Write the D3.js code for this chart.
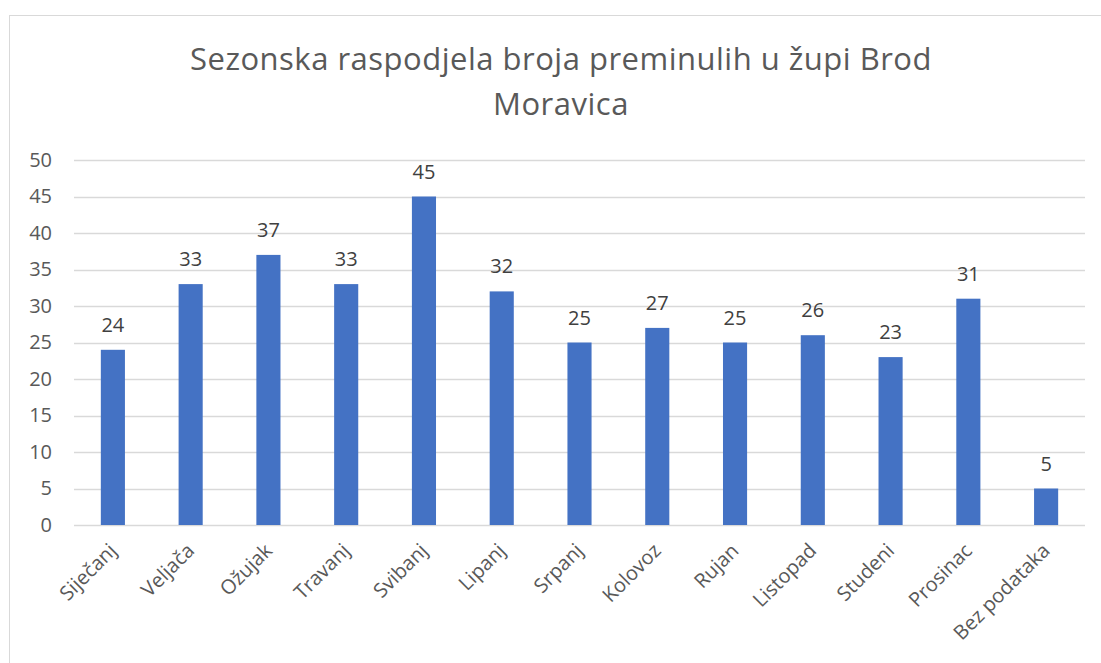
<!DOCTYPE html>
<html>
<head>
<meta charset="utf-8">
<script src="https://cdn.jsdelivr.net/npm/d3@7"></script>
<style>
  body { margin: 0; background: #fff; }
  svg { display: block; font-family: "Open Sans", sans-serif; }
</style>
</head>
<body>
<svg id="chart"></svg>
<script>
var months = ["Siječanj", "Veljača", "Ožujak", "Travanj", "Svibanj", "Lipanj", "Srpanj",
              "Kolovoz", "Rujan", "Listopad", "Studeni", "Prosinac", "Bez podataka"];
var deaths = [24, 33, 37, 33, 45, 32, 25, 27, 25, 26, 23, 31, 5];
var yTicks = [0, 5, 10, 15, 20, 25, 30, 35, 40, 45, 50];
var titleLines = ["Sezonska raspodjela broja preminulih u župi Brod", "Moravica"];

var w = 1101, h = 663;
// plot area (don't call these top/left: window.top is read only)
var plotLeft = 74, plotRight = 1085, plotTop = 160, plotBottom = 525;
var textColor = "#595959";

var svg = d3.select("#chart").attr("width", w).attr("height", h);

// outer chart frame
svg.append("rect")
    .attr("x", 9.5).attr("y", 15.5)
    .attr("width", 1120).attr("height", 700)
    .attr("fill", "none")
    .attr("stroke", "#d9d9d9");

var x = d3.scaleBand()
    .domain(months)
    .range([plotLeft, plotRight])
    .paddingInner(0.69)
    .paddingOuter(0.345);

var y = d3.scaleLinear()
    .domain([0, 50])
    .range([plotBottom, plotTop]);

// gridlines
svg.append("g")
    .selectAll("line")
    .data(yTicks)
    .enter()
    .append("line")
    .attr("x1", plotLeft).attr("x2", plotRight)
    .attr("y1", function (d) { return Math.round(y(d)) + 0.5; })
    .attr("y2", function (d) { return Math.round(y(d)) + 0.5; })
    .style("stroke", "#d9d9d9")
    .style("stroke-width", 1.3);

// y axis labels
var yAxis = d3.axisLeft(y).tickValues(yTicks).tickSize(0).tickPadding(0);
var gy = svg.append("g")
    .attr("transform", "translate(52,0)")
    .call(yAxis);
gy.select(".domain").remove();
gy.selectAll("text")
    .style("font-size", "20px")
    .style("font-family", "'Open Sans', sans-serif")
    .attr("fill", textColor);

// bars
svg.append("g")
    .selectAll("rect")
    .data(deaths)
    .enter()
    .append("rect")
    .attr("x", function (d, i) { return x(months[i]); })
    .attr("width", x.bandwidth())
    .attr("y", function (d) { return y(d); })
    .attr("height", function (d) { return y(0) - y(d); })
    .style("fill", "#4472C4");

// value labels
svg.append("g")
    .selectAll("text")
    .data(deaths)
    .enter()
    .append("text")
    .attr("x", function (d, i) { return x(months[i]) + x.bandwidth() / 2; })
    .attr("y", function (d) { return y(d) - 18; })
    .attr("text-anchor", "middle")
    .style("font-size", "20px")
    .attr("fill", "#404040")
    .text(function (d) { return d; });

// category labels, rotated
svg.append("g")
    .selectAll("text")
    .data(months)
    .enter()
    .append("text")
    .attr("transform", function (d) {
        var cx = x(d) + x.bandwidth() / 2;
        return "translate(" + cx + ",547) rotate(-45)";
    })
    .attr("dy", "0.35em")
    .attr("text-anchor", "end")
    .style("font-size", "20px")
    .attr("fill", textColor)
    .text(function (d) { return d; });

// title
svg.append("g")
    .selectAll("text")
    .data(titleLines)
    .enter()
    .append("text")
    .attr("x", 561)
    .attr("y", function (d, i) { return 70 + i * 45; })
    .attr("text-anchor", "middle")
    .style("font-size", "31px")
    .style("letter-spacing", "0.5px")
    .attr("fill", textColor)
    .text(function (d) { return d; });
</script>
</body>
</html>
